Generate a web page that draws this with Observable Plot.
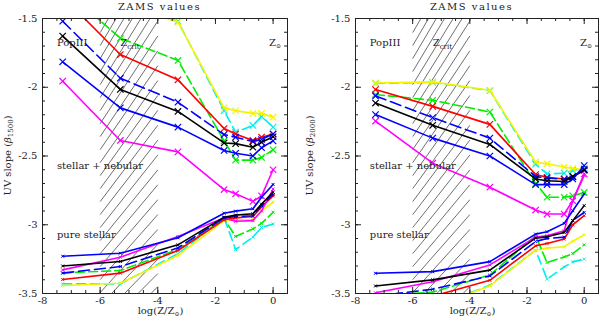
<!DOCTYPE html>
<html><head><meta charset="utf-8">
<script src="https://cdn.jsdelivr.net/npm/d3@7"></script>
<script src="https://cdn.jsdelivr.net/npm/@observablehq/plot@0.6"></script>
<style>
body{margin:0;background:#fff;}
#wrap{display:flex;width:600px;height:319px;}
</style></head><body><div id="wrap"></div>
<script>
// metallicity grid: log(Z/Zsun); PopIII plotted at -7.3
const logZ = [-7.3, -5.3, -3.3, -1.7, -1.3, -0.7, -0.4, 0];
const xTicks = [-8, -6, -4, -2, 0];
const yTicks = [-3.5, -3, -2.5, -2, -1.5];
const zcritRange = [-6, -4];
const seriesNames = ["cyanDashed", "yellow", "greenDashed", "red", "magenta", "blueDashed", "black", "blue"];

// beta_1500, stellar + nebular
const n1500_magenta     = [-1.956, -2.387, -2.47, -2.744, -2.775, -2.83, -2.79, -2.60];
const n1500_blue        = [-1.815, -2.15, -2.29, -2.46, -2.48, -2.50, -2.44, -2.39];
const n1500_blueDashed  = [-1.52, -1.934, -2.109, -2.344, -2.363, -2.395, -2.38, -2.34];
const n1500_black       = [-1.628, -2.016, -2.176, -2.405, -2.41, -2.436, -2.40, -2.36];
const n1500_red         = [-1.34, -1.762, -1.946, -2.30, -2.34, -2.387, -2.363, -2.34];
const n1500_greenDashed = [-1.28, -1.643, -1.805, -2.39, -2.53, -2.53, -2.51, -2.455];
const n1500_yellow      = [-1.35, -1.39, -1.527, -2.15, -2.17, -2.19, -2.19, -2.218];
const n1500_cyanDashed  = [-1.30, -1.38, -1.52, -2.17, -2.327, -2.278, -2.213, -2.29];
// beta_1500, pure stellar
const s1500_magenta     = [-3.328, -3.236, -3.085, -2.95, -2.975, -2.97, -2.90, -2.74];
const s1500_blue        = [-3.229, -3.207, -3.095, -2.916, -2.901, -2.884, -2.80, -2.707];
const s1500_blueDashed  = [-3.352, -3.304, -3.168, -2.95, -2.94, -2.935, -2.86, -2.78];
const s1500_black       = [-3.30, -3.267, -3.146, -2.945, -2.93, -2.92, -2.85, -2.763];
const s1500_red         = [-3.398, -3.352, -3.187, -2.964, -2.95, -2.94, -2.87, -2.79];
const s1500_greenDashed = [-3.35, -3.333, -3.18, -2.957, -3.085, -3.03, -2.99, -2.909];
const s1500_yellow      = [-3.442, -3.425, -3.224, -2.97, -2.965, -2.96, -2.90, -2.836];
const s1500_cyanDashed  = [-3.43, -3.43, -3.21, -2.95, -3.18, -3.09, -3.02, -2.995];
// beta_2000, stellar + nebular
const n2000_magenta     = [-2.246, -2.552, -2.727, -2.893, -2.922, -2.922, -2.825, -2.63];
const n2000_blue        = [-2.199, -2.37, -2.50, -2.708, -2.708, -2.708, -2.667, -2.57];
const n2000_blueDashed  = [-2.063, -2.221, -2.37, -2.65, -2.66, -2.67, -2.65, -2.60];
const n2000_black       = [-2.115, -2.277, -2.416, -2.667, -2.68, -2.685, -2.65, -2.60];
const n2000_red         = [-2.017, -2.139, -2.27, -2.635, -2.655, -2.667, -2.65, -2.605];
const n2000_greenDashed = [-2.053, -2.095, -2.18, -2.70, -2.80, -2.80, -2.79, -2.765];
const n2000_yellow      = [-1.969, -1.961, -2.022, -2.545, -2.557, -2.58, -2.59, -2.60];
const n2000_cyanDashed  = [-1.972, -1.965, -2.025, -2.56, -2.63, -2.625, -2.605, -2.59];
// beta_2000, pure stellar
const s2000_magenta     = [-3.495, -3.414, -3.292, -3.09, -3.08, -3.044, -2.825, -2.642];
const s2000_blue        = [-3.353, -3.341, -3.268, -3.068, -3.051, -2.99, -2.898, -2.776];
const s2000_blueDashed  = [-3.519, -3.469, -3.372, -3.122, -3.10, -3.09, -2.97, -2.91];
const s2000_black       = [-3.445, -3.401, -3.33, -3.097, -3.088, -3.056, -2.97, -2.861];
const s2000_red         = [-3.56, -3.52, -3.404, -3.153, -3.136, -3.104, -3.00, -2.934];
const s2000_greenDashed = [-3.519, -3.49, -3.365, -3.08, -3.275, -3.234, -3.21, -3.146];
const s2000_yellow      = [-3.62, -3.60, -3.445, -3.185, -3.17, -3.16, -3.12, -3.073];
const s2000_cyanDashed  = [-3.62, -3.60, -3.44, -3.185, -3.396, -3.307, -3.27, -3.25];

const styles = {
  magenta: {color: "#ff00ff"},
  blue: {color: "#0000ff"},
  blueDashed: {color: "#0000ff", dash: "11,5"},
  black: {color: "#000000"},
  red: {color: "#ff0000"},
  greenDashed: {color: "#00ee00", dash: "9,4"},
  yellow: {color: "#f4f400"},
  cyanDashed: {color: "#00eeee", dash: "9,5"}
};

const panels = [
  {
    neb: {magenta: n1500_magenta, blue: n1500_blue, blueDashed: n1500_blueDashed, black: n1500_black, red: n1500_red, greenDashed: n1500_greenDashed, yellow: n1500_yellow, cyanDashed: n1500_cyanDashed},
    pure: {magenta: s1500_magenta, blue: s1500_blue, blueDashed: s1500_blueDashed, black: s1500_black, red: s1500_red, greenDashed: s1500_greenDashed, yellow: s1500_yellow, cyanDashed: s1500_cyanDashed},
    sub: "1500", ml: 42, mr: 13, ylx: 11
  },
  {
    neb: {magenta: n2000_magenta, blue: n2000_blue, blueDashed: n2000_blueDashed, black: n2000_black, red: n2000_red, greenDashed: n2000_greenDashed, yellow: n2000_yellow, cyanDashed: n2000_cyanDashed},
    pure: {magenta: s2000_magenta, blue: s2000_blue, blueDashed: s2000_blueDashed, black: s2000_black, red: s2000_red, greenDashed: s2000_greenDashed, yellow: s2000_yellow, cyanDashed: s2000_cyanDashed},
    sub: "2000", ml: 55, mr: 2, ylx: 13
  }
];

const XD = [-8, 0.5], YD = [-3.5, -1.5];
const xMinor = d3.range(-8, 0.51, 0.5);
const yMinor = d3.range(-3.5, -1.49, 0.1);
const W = 300, H = 319, MT = 18, MB = 26;

function makePanel(cfg) {
  const pxX = (W - cfg.ml - cfg.mr) / (XD[1] - XD[0]);
  const pxY = (H - MT - MB) / (YD[1] - YD[0]);
  const tyMaj = 6 / pxY, tyMin = 3 / pxY, txMaj = 6 / pxX, txMin = 3 / pxX;
  // hatch lines across the Zcrit band (decoration): steeper and denser toward the top
  const hatch = [];
  const vstep = 13 / pxY;
  for (let y = YD[0] - 0.75; y < YD[1]; y += vstep) {
    const f = Math.max(0, Math.min(1, (y + 0.25 - YD[0]) / (YD[1] - YD[0])));
    const rise = (58 + 40 * f) / pxY;
    hatch.push({x1: zcritRange[0], y1: y, x2: zcritRange[1], y2: y + rise});
  }
  const marks = [];
  marks.push(Plot.link(hatch, {x1: "x1", y1: "y1", x2: "x2", y2: "y2", stroke: "#4a4a4a", strokeWidth: 0.8, clip: true}));
  for (const name of seriesNames) {
    const st = styles[name];
    const rn = logZ.map((x, i) => ({x, y: cfg.neb[name][i]}));
    const rp = logZ.map((x, i) => ({x, y: cfg.pure[name][i]}));
    marks.push(Plot.line(rn, {x: "x", y: "y", stroke: st.color, strokeWidth: 1.6, strokeDasharray: st.dash, clip: true}));
    marks.push(Plot.dot(rn, {x: "x", y: "y", symbol: "times", r: 3, stroke: st.color, strokeWidth: 1.2, clip: true}));
    marks.push(Plot.line(rp, {x: "x", y: "y", stroke: st.color, strokeWidth: 1.6, strokeDasharray: st.dash, clip: true}));
    marks.push(Plot.dot(rp, {x: "x", y: "y", symbol: "times", r: 1.5, stroke: st.color, strokeWidth: 1, clip: true}));
  }
  // ticks on four sides, pointing inward
  marks.push(Plot.ruleX(xTicks, {x: d => d, y1: () => YD[0], y2: () => YD[0] + tyMaj, stroke: "#222"}));
  marks.push(Plot.ruleX(xTicks, {x: d => d, y1: () => YD[1], y2: () => YD[1] - tyMaj, stroke: "#222"}));
  marks.push(Plot.ruleX(xMinor, {x: d => d, y1: () => YD[0], y2: () => YD[0] + tyMin, stroke: "#222"}));
  marks.push(Plot.ruleX(xMinor, {x: d => d, y1: () => YD[1], y2: () => YD[1] - tyMin, stroke: "#222"}));
  marks.push(Plot.ruleY(yTicks, {y: d => d, x1: () => XD[0], x2: () => XD[0] + txMaj, stroke: "#222"}));
  marks.push(Plot.ruleY(yTicks, {y: d => d, x1: () => XD[1], x2: () => XD[1] - txMaj, stroke: "#222"}));
  marks.push(Plot.ruleY(yMinor, {y: d => d, x1: () => XD[0], x2: () => XD[0] + txMin, stroke: "#222"}));
  marks.push(Plot.ruleY(yMinor, {y: d => d, x1: () => XD[1], x2: () => XD[1] - txMin, stroke: "#222"}));
  // labels
  marks.push(Plot.text(["PopIII"], {x: () => -7.5, y: () => -1.68, textAnchor: "start", fontSize: 10, fill: "#222"}));
  marks.push(Plot.text(["Z"], {x: () => -5.3, y: () => -1.68, textAnchor: "start", fontSize: 10, fill: "#222"}));
  marks.push(Plot.text(["crit"], {x: () => -5.3, y: () => -1.68, dx: 7, dy: 3, textAnchor: "start", fontSize: 7, fill: "#222"}));
  marks.push(Plot.text(["Z"], {x: () => 0.1, y: () => -1.68, textAnchor: "end", fontSize: 10, fill: "#222"}));
  marks.push(Plot.text(["\u2299"], {x: () => 0.1, y: () => -1.68, dy: 3, textAnchor: "start", fontSize: 6, fill: "#222"}));
  marks.push(Plot.text(["stellar + nebular"], {x: () => -7.5, y: () => -2.57, textAnchor: "start", fontSize: 10, fill: "#222"}));
  marks.push(Plot.text(["pure stellar"], {x: () => -7.5, y: () => -3.07, textAnchor: "start", fontSize: 10, fill: "#222"}));
  marks.push(Plot.frame({stroke: "#222"}));

  const svg = Plot.plot({
    width: W, height: H,
    marginLeft: cfg.ml, marginRight: cfg.mr, marginTop: MT, marginBottom: MB,
    style: {fontFamily: "DejaVu Serif", fontSize: "10px", background: "white", color: "#222"},
    x: {domain: XD, ticks: xTicks, tickSize: 0, tickPadding: 3, tickFormat: d => String(d), label: null},
    y: {domain: YD, ticks: yTicks, tickSize: 0, tickPadding: 5, tickFormat: d => String(d), label: null},
    marks
  });

  const s = d3.select(svg);
  const cx = cfg.ml + (W - cfg.ml - cfg.mr) / 2;
  // title
  s.append("text").attr("x", cx - 5).attr("y", 10).attr("text-anchor", "middle")
    .attr("font-size", 10).attr("letter-spacing", "1.5px").attr("fill", "#222").text("ZAMS values");
  // x label
  const xl = s.append("text").attr("x", cx - 4).attr("y", 314).attr("text-anchor", "middle")
    .attr("font-size", 10).attr("fill", "#222");
  xl.append("tspan").text("log(Z/Z");
  xl.append("tspan").attr("font-size", 6).attr("dy", 2).text("\u2299");
  xl.append("tspan").attr("dy", -2).text(")");
  // y label
  const yl = s.append("text").attr("transform", `translate(${cfg.ylx},${MT + (H - MT - MB) / 2}) rotate(-90)`)
    .attr("text-anchor", "middle").attr("font-size", 10).attr("fill", "#222");
  yl.append("tspan").text("UV slope (");
  yl.append("tspan").attr("font-style", "italic").text("\u03b2");
  yl.append("tspan").attr("font-size", 7).attr("dy", 2).text(cfg.sub);
  yl.append("tspan").attr("dy", -2).text(")");
  return svg;
}

const wrap = document.getElementById("wrap");
for (const p of panels) wrap.appendChild(makePanel(p));
</script>
</body></html>
